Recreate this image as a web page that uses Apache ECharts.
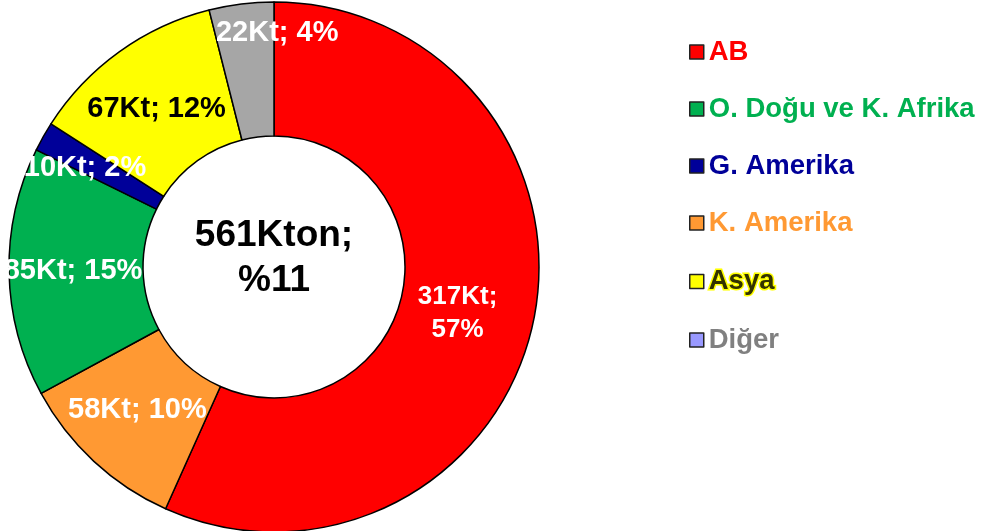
<!DOCTYPE html>
<html>
<head>
<meta charset="utf-8">
<script src="https://cdn.jsdelivr.net/npm/echarts@6/dist/echarts.min.js"></script>
<style>
  html, body { margin: 0; padding: 0; background: #fff; }
  #box { width: 982px; height: 531px; }
</style>
</head>
<body>
<div id="box"></div>
<script>
// dilimler saat yönünde, tepeden başlayarak
var regions = ["AB", "K. Amerika", "O. Doğu ve K. Afrika", "G. Amerika", "Asya", "Diğer"];
var tonnes = [317, 58, 85, 10, 67, 22];
var sliceColors = ["#FF0000", "#FF9933", "#00B050", "#000099", "#FFFF00", "#A6A6A6"];
var labelColors = ["#fff", "#fff", "#fff", "#fff", "#000", "#fff"];
// lejant sırası
var legendOrder = ["AB", "O. Doğu ve K. Afrika", "G. Amerika", "K. Amerika", "Asya", "Diğer"];
var legendTextColors = {
  "AB": "#FF0000",
  "O. Doğu ve K. Afrika": "#00B050",
  "G. Amerika": "#000099",
  "K. Amerika": "#FF9933",
  "Asya": "#333300",
  "Diğer": "#808080"
};
var centerText = "561Kton;\n%11";

var font = "'Liberation Sans', Arial, sans-serif";
var chart = echarts.init(document.getElementById("box"));

// etiket kaydırmaları (orijinaldeki elle yerleştirme)
var labelShift = {
  "Diğer": [28, -35],
  "G. Amerika": [-14, 0],
  "AB": [-13, 4],
  "Asya": [0, 5],
  "K. Amerika": [0, -4]
};

var seriesData = regions.map(function (name, i) {
  var lbl = { color: labelColors[i] };
  if (i === 0) lbl.fontSize = 26;
  return {
    name: name,
    value: tonnes[i],
    itemStyle: { color: sliceColors[i] },
    label: lbl
  };
});

var legendData = legendOrder.map(function (name) {
  var item = { name: name, textStyle: { color: legendTextColors[name] } };
  if (name === "Diğer") item.itemStyle = { color: "#9999FF" };
  if (name === "Asya") {
    item.textStyle.textBorderColor = "#FFFF00";
    item.textStyle.textBorderWidth = 3;
  }
  return item;
});

var option = {
  animation: false,
  backgroundColor: "#fff",
  legend: {
    orient: "vertical",
    left: 684,
    top: 33,
    itemWidth: 14,
    itemHeight: 14,
    itemGap: 29,
    icon: "rect",
    itemStyle: { borderColor: "#222", borderWidth: 1.5 },
    textStyle: { fontFamily: font, fontWeight: "bold", fontSize: 27.5, lineHeight: 26 },
    data: legendData
  },
  graphic: [
    {
      type: "text",
      x: 274,
      y: 258,
      style: {
        text: centerText,
        fontFamily: font,
        fontWeight: "bold",
        fontSize: 37,
        lineHeight: 45,
        fill: "#000",
        align: "center",
        verticalAlign: "middle"
      }
    }
  ],
  series: [
    {
      type: "pie",
      center: [274, 267],
      radius: [131, 265],
      startAngle: 90,
      clockwise: true,
      itemStyle: { borderColor: "#000", borderWidth: 1.5 },
      label: {
        show: true,
        position: "inside",
        fontFamily: font,
        fontWeight: "bold",
        fontSize: 29,
        lineHeight: 33,
        formatter: function (p) {
          var sep = p.dataIndex === 0 ? ";\n" : "; ";
          return p.value + "Kt" + sep + Math.round(p.percent) + "%";
        }
      },
      labelLine: { show: false },
      labelLayout: function (p) {
        var s = labelShift[regions[p.dataIndex]];
        return s ? { dx: s[0], dy: s[1] } : {};
      },
      emphasis: { disabled: true },
      data: seriesData
    }
  ]
};
chart.setOption(option);
</script>
</body>
</html>
